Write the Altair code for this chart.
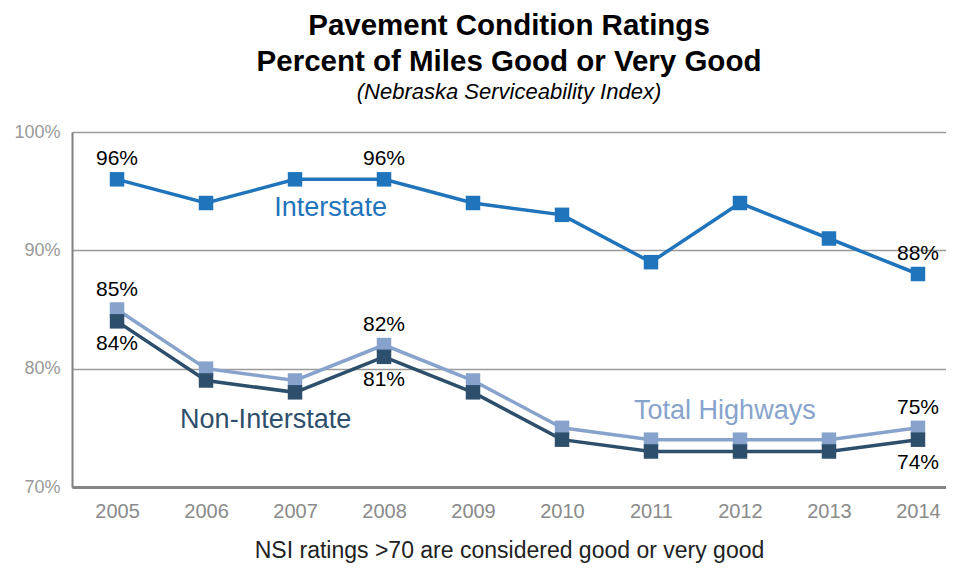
import altair as alt
import pandas as pd

years = [2005, 2006, 2007, 2008, 2009, 2010, 2011, 2012, 2013, 2014]
interstate = [96, 94, 96, 96, 94, 93, 89, 94, 91, 88]
total_highways = [85, 80, 79, 82, 79, 75, 74, 74, 74, 75]
non_interstate = [84, 79, 78, 81, 78, 74, 73, 73, 73, 74]

series_names = ["Total Highways", "Non-Interstate", "Interstate"]
series_colors = ["#87a3cc", "#2e4f6c", "#1f74bc"]

# value labels: year, value, text, position
above_years = [2005, 2008, 2014, 2005, 2008, 2014]
above_vals = [96, 96, 88, 85, 82, 75]
below_years = [2005, 2008, 2014]
below_vals = [84, 81, 74]

# series name annotations
ann_text = ["Interstate", "Non-Interstate", "Total Highways"]
ann_year = [2007.4, 2006.67, 2011.83]
ann_val = [93.6, 75.65, 76.4]

rows = []
for name, vals in zip(series_names, [total_highways, non_interstate, interstate]):
    for i, (y, v) in enumerate(zip(years, vals)):
        rows.append({"series": name, "year": y, "value": v, "order": i})
df = pd.DataFrame(rows)

above_df = pd.DataFrame({"year": above_years, "value": above_vals,
                         "label": [f"{v}%" for v in above_vals]})
below_df = pd.DataFrame({"year": below_years, "value": below_vals,
                         "label": [f"{v}%" for v in below_vals]})
ann_df = pd.DataFrame({"text": ann_text, "year": ann_year, "value": ann_val})

FONT = "Liberation Sans"

xscale = alt.Scale(domain=[2004.494, 2014.315], nice=False, zero=False)
yscale = alt.Scale(domain=[70, 100], nice=False, zero=False)
color_scale = alt.Scale(domain=series_names, range=series_colors)

x_enc = alt.X("year:Q", scale=xscale, axis=alt.Axis(
    values=years, format="d", title="NSI ratings >70 are considered good or very good",
    titleFont=FONT, titleFontSize=23, titleFontWeight="normal", titleColor="#222222",
    titlePadding=18, labelFont=FONT, labelFontSize=20, labelColor="#8a8a8a",
    labelPadding=14, ticks=False, grid=False, domainColor="#858585", domainWidth=3,
    labelFlush=False))
y_enc = alt.Y("value:Q", scale=yscale, axis=alt.Axis(
    values=[70, 80, 90, 100], labelExpr="datum.value + '%'", title=None,
    labelFont=FONT, labelFontSize=18, labelColor="#999999", labelPadding=12,
    ticks=False, grid=True, gridColor="#9a9a9a", gridWidth=1.5,
    domainColor="#808080", domainWidth=2))

lines = alt.Chart(df).mark_line(strokeWidth=3.5, point=alt.OverlayMarkDef(
    shape="square", size=210, filled=True, opacity=1)).encode(
    x=x_enc, y=y_enc,
    color=alt.Color("series:N", scale=color_scale, legend=None),
    detail="series:N",
    order="order:Q",
)

above = alt.Chart(above_df).mark_text(dy=-20, font=FONT, fontSize=21, color="#000000").encode(
    x="year:Q", y="value:Q", text="label:N")
below = alt.Chart(below_df).mark_text(dy=23, font=FONT, fontSize=21, color="#000000").encode(
    x="year:Q", y="value:Q", text="label:N")

ann = alt.Chart(ann_df).mark_text(font=FONT, fontSize=27).encode(
    x="year:Q", y="value:Q", text="text:N",
    color=alt.Color("text:N", scale=alt.Scale(
        domain=["Interstate", "Non-Interstate", "Total Highways"],
        range=["#1f74bc", "#2e4f6c", "#87a3cc"]), legend=None))

chart = alt.layer(lines, above, below, ann).resolve_scale(color="independent").properties(
    width=874, height=355,
    autosize=alt.AutoSizeParams(type="none"),
    padding={"left": 64, "top": 124, "right": 0, "bottom": 80},
    title=alt.TitleParams(
        text=["Pavement Condition Ratings", "Percent of Miles Good or Very Good"],
        subtitle="(Nebraska Serviceability Index)",
        font=FONT, fontSize=29.5, fontWeight="bold", color="#000000", lineHeight=36,
        subtitleFont=FONT, subtitleFontSize=22, subtitleFontStyle="italic",
        subtitleColor="#000000", subtitlePadding=5, anchor="middle", offset=19),
).configure_view(stroke=None).configure(background="white")

chart.save("out.html", embed_options={"renderer": "svg", "actions": False})
